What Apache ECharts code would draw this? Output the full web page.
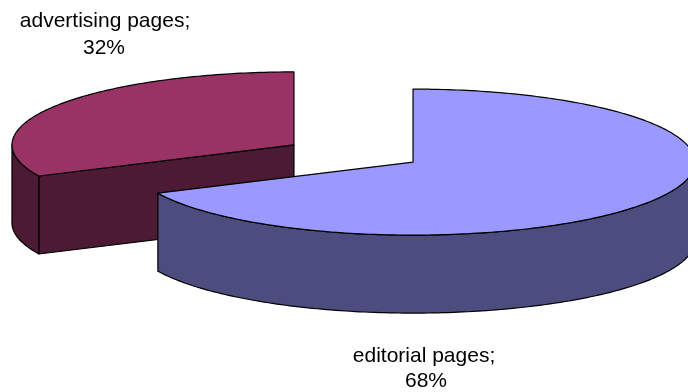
<!DOCTYPE html>
<html>
<head>
<meta charset="utf-8">
<script src="https://cdn.jsdelivr.net/npm/echarts@6/dist/echarts.min.js"></script>
<style>
  html, body { margin: 0; padding: 0; background: #ffffff; }
  #chart { width: 688px; height: 392px; }
</style>
</head>
<body>
<div id="chart"></div>
<script>
// Page composition: share of editorial vs advertising pages
const categories = ['editorial pages', 'advertising pages'];
const shares = [68, 32];
const topColors = ['#9999FF', '#993366'];
const sideColors = ['#4C4C7E', '#4D1A33'];

// Layout of the tilted, exploded pie (pixels)
const PIE = { cx: 353.5, cy: 153.5, rx: 282, ry: 73, depth: 78, explodeX: 0.25, explodeY: 0.22 };
// Label line anchors per slice: [line1 x, line1 y, line2 x, line2 y]
const LABEL_POS = [[424, 356, 426, 381], [105, 21, 104, 48]];

const total = shares.reduce((a, b) => a + b, 0);
const rad = d => d * Math.PI / 180;

// angles measured clockwise from 12 o'clock, in degrees
const slices = [];
let acc = 0;
shares.forEach((v, i) => {
  const a1 = acc / total * 360;
  acc += v;
  const a2 = acc / total * 360;
  const mid = (a1 + a2) / 2;
  slices.push({
    i, a1, a2,
    cx: PIE.cx + PIE.explodeX * PIE.rx * Math.sin(rad(mid)),
    cy: PIE.cy - PIE.explodeY * PIE.ry * Math.cos(rad(mid))
  });
});

function pt(s, a, dy) {
  return [s.cx + PIE.rx * Math.sin(rad(a)), s.cy - PIE.ry * Math.cos(rad(a)) + (dy || 0)];
}
function arc(s, from, to, dy) {
  const pts = [];
  const n = Math.max(2, Math.ceil(Math.abs(to - from)));
  for (let k = 0; k <= n; k++) pts.push(pt(s, from + (to - from) * k / n, dy));
  return pts;
}

const edge = { stroke: '#000000', lineWidth: 1.2, lineJoin: 'round' };

function renderItem(params, api) {
  const s = slices[params.dataIndex];
  const i = s.i;
  const d = PIE.depth;
  const children = [];
  const side = Object.assign({ fill: sideColors[i] }, edge);

  // radial wall on the start edge, visible when it faces the viewer
  if (Math.sin(rad(s.a1)) < -1e-6) {
    const p = pt(s, s.a1);
    children.push({ type: 'polygon', shape: { points: [[s.cx, s.cy], p, [p[0], p[1] + d], [s.cx, s.cy + d]] }, style: side });
  }
  // radial wall on the end edge
  if (Math.sin(rad(s.a2)) > 1e-6) {
    const p = pt(s, s.a2);
    children.push({ type: 'polygon', shape: { points: [[s.cx, s.cy], p, [p[0], p[1] + d], [s.cx, s.cy + d]] }, style: side });
  }
  // outer curved wall on the front half (90..270 degrees)
  const f1 = Math.max(s.a1, 90), f2 = Math.min(s.a2, 270);
  if (f2 > f1) {
    const top = arc(s, f1, f2, 0);
    const bot = arc(s, f2, f1, d);
    children.push({ type: 'polygon', shape: { points: top.concat(bot) }, style: side });
  }
  // top face
  const topPts = [[s.cx, s.cy]].concat(arc(s, s.a1, s.a2, 0));
  children.push({ type: 'polygon', shape: { points: topPts }, style: Object.assign({ fill: topColors[i] }, edge) });

  // label
  const lp = LABEL_POS[i];
  const pct = Math.round(shares[i] / total * 100) + '%';
  const font = '21px "Liberation Sans", Arial, sans-serif';
  children.push({ type: 'text', x: lp[0], y: lp[1], style: { text: categories[i] + ';', font, fill: '#000', align: 'center', verticalAlign: 'middle' } });
  children.push({ type: 'text', x: lp[2], y: lp[3], style: { text: pct, font, fill: '#000', align: 'center', verticalAlign: 'middle' } });

  return { type: 'group', children };
}

// draw back slices first
const order = slices.slice().sort((a, b) => a.cy - b.cy).map(s => s.i);

const chart = echarts.init(document.getElementById('chart'), null, { renderer: 'canvas' });
chart.setOption({
  animation: false,
  backgroundColor: '#ffffff',
  series: [{
    type: 'custom',
    coordinateSystem: 'none',
    renderItem: (params, api) => renderItem({ dataIndex: order[params.dataIndex] }, api),
    data: order.map(i => ({ name: categories[i], value: shares[i] }))
  }]
});
</script>
</body>
</html>
